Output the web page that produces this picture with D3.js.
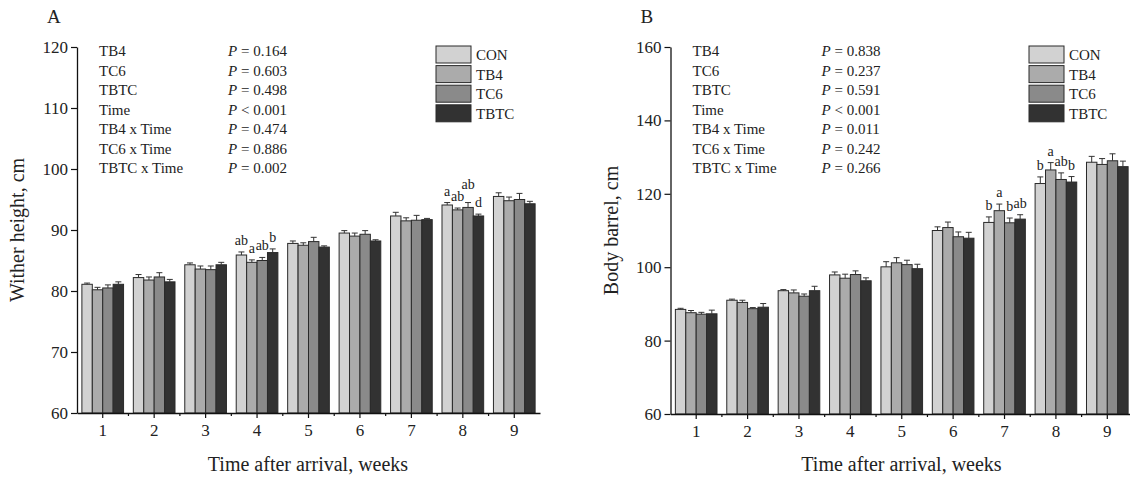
<!DOCTYPE html>
<html>
<head>
<meta charset="utf-8">
<script src="https://cdn.jsdelivr.net/npm/d3@7"></script>
<style>
  body { margin: 0; background: #fff; }
  svg { display: block; font-family: "Liberation Serif", "Times New Roman", serif; }
</style>
</head>
<body>
<svg id="chart" width="1130" height="479"></svg>
<script>
// week labels and treatment groups
const weeks = ["1", "2", "3", "4", "5", "6", "7", "8", "9"];
const groups = ["CON", "TB4", "TC6", "TBTC"];
const groupColors = ["#d2d2d2", "#ababab", "#8a8a8a", "#323232"];

// panel A - wither height (mean, SE), one array per group
const witherCON  = [81.1, 82.2, 84.3, 85.9, 87.8, 89.5, 92.3, 94.1, 95.5];
const witherTB4  = [80.2, 81.8, 83.6, 84.7, 87.5, 89.0, 91.5, 93.3, 94.8];
const witherTC6  = [80.5, 82.3, 83.5, 85.0, 88.1, 89.3, 91.6, 93.7, 95.0];
const witherTBTC = [81.1, 81.5, 84.3, 86.3, 87.2, 88.2, 91.7, 92.3, 94.3];
const witherSeCON  = [0.2, 0.5, 0.3, 0.5, 0.4, 0.4, 0.6, 0.4, 0.6];
const witherSeTB4  = [0.4, 0.5, 0.5, 0.4, 0.4, 0.5, 0.5, 0.3, 0.6];
const witherSeTC6  = [0.5, 0.7, 0.6, 0.5, 0.7, 0.6, 0.8, 0.8, 1.0];
const witherSeTBTC = [0.4, 0.4, 0.4, 0.6, 0.2, 0.2, 0.2, 0.3, 0.4];
// letters per week (null = none), order CON, TB4, TC6, TBTC
const witherLetters = [null, null, null, ["ab", "a", "ab", "b"], null, null, null, ["a", "ab", "ab", "d"], null];

// panel B - body barrel
const barrelCON  = [88.5, 91.0, 93.6, 97.9, 100.1, 110.0, 112.2, 122.8, 128.6];
const barrelTB4  = [87.6, 90.4, 93.0, 97.0, 101.2, 110.8, 115.4, 126.5, 128.0];
const barrelTC6  = [87.2, 88.7, 92.1, 98.0, 100.7, 108.3, 112.1, 123.9, 129.0];
const barrelTBTC = [87.3, 89.1, 93.6, 96.3, 99.6, 107.9, 113.1, 123.2, 127.4];
const barrelSeCON  = [0.3, 0.3, 0.3, 0.8, 1.4, 1.0, 1.5, 1.8, 1.6];
const barrelSeTB4  = [0.6, 0.6, 0.8, 1.1, 1.4, 1.5, 1.8, 2.0, 1.6];
const barrelSeTC6  = [0.5, 0.3, 0.6, 1.0, 1.2, 1.3, 1.3, 1.8, 1.9];
const barrelSeTBTC = [1.0, 1.0, 1.2, 0.8, 1.2, 1.6, 1.2, 1.5, 1.5];
const barrelLetters = [null, null, null, null, null, null, ["b", "a", "b", "ab"], ["b", "a", "ab", "b"], null];

// statistics text
const statTerms = ["TB4", "TC6", "TBTC", "Time", "TB4 x Time", "TC6 x Time", "TBTC x Time"];
const statsA = ["= 0.164", "= 0.603", "= 0.498", "< 0.001", "= 0.474", "= 0.886", "= 0.002"];
const statsB = ["= 0.838", "= 0.237", "= 0.591", "< 0.001", "= 0.011", "= 0.242", "= 0.266"];

const ticksA = [60, 70, 80, 90, 100, 110, 120];
const ticksB = [60, 80, 100, 120, 140, 160];

const svg = d3.select("#chart");

function drawPanel(p) {
  const g = svg.append("g");

  const x = d3.scaleBand().domain(weeks).range([p.left, p.right])
    .paddingInner(0.19).paddingOuter(0.095);
  const xs = d3.scaleBand().domain(groups).range([0, x.bandwidth()]);
  const y = d3.scaleLinear().domain(p.domain).range([p.bottom, p.top]);

  // bars
  groups.forEach((s, si) => {
    const gs = g.append("g");
    gs.selectAll("rect").data(p.means[si]).enter().append("rect")
      .attr("x", (d, i) => x(weeks[i]) + xs(s))
      .attr("y", d => y(d))
      .attr("width", xs.bandwidth())
      .attr("height", d => p.bottom - y(d))
      .attr("fill", groupColors[si])
      .attr("stroke", "#2a2a2a")
      .attr("stroke-width", 1);

    // error bars (upper only)
    const eb = gs.selectAll("g.err").data(p.means[si]).enter().append("g");
    eb.append("line")
      .attr("x1", (d, i) => x(weeks[i]) + xs(s) + xs.bandwidth() / 2)
      .attr("x2", (d, i) => x(weeks[i]) + xs(s) + xs.bandwidth() / 2)
      .attr("y1", d => y(d))
      .attr("y2", (d, i) => y(d + p.se[si][i]))
      .attr("stroke", "#333").attr("stroke-width", 1);
    eb.append("line")
      .attr("x1", (d, i) => x(weeks[i]) + xs(s) + xs.bandwidth() / 2 - 3)
      .attr("x2", (d, i) => x(weeks[i]) + xs(s) + xs.bandwidth() / 2 + 3)
      .attr("y1", (d, i) => y(d + p.se[si][i]))
      .attr("y2", (d, i) => y(d + p.se[si][i]))
      .attr("stroke", "#333").attr("stroke-width", 1);
  });

  // significance letters, bumped up if they collide with the previous one
  p.letters.forEach((lets, wi) => {
    if (!lets) return;
    let prev = null;
    lets.forEach((t, si) => {
      const cx = x(weeks[wi]) + xs(groups[si]) + xs.bandwidth() / 2;
      let by = y(p.means[si][wi] + p.se[si][wi]) - 7;
      const txt = g.append("text").attr("x", cx)
        .attr("text-anchor", "middle").attr("font-size", 14).attr("fill", "#222")
        .text(t);
      const w = txt.node().getComputedTextLength();
      if (prev && cx - w / 2 < prev.x + prev.w / 2 && Math.abs(by - prev.y) < 11) {
        by = prev.y - 12;
      }
      txt.attr("y", by);
      prev = { x: cx, y: by, w: w };
    });
  });

  // x axis
  const xAxis = d3.axisBottom(x).tickSize(5).tickSizeOuter(0).tickPadding(6);
  const gx = g.append("g").attr("transform", `translate(0,${p.bottom})`).call(xAxis);
  gx.select(".domain").attr("stroke", "#111").attr("stroke-width", 1.3);
  gx.selectAll(".tick line").attr("stroke", "#111").attr("stroke-width", 1.2);
  gx.selectAll(".tick text").attr("font-size", 17).attr("fill", "#222")
    .attr("font-family", "Liberation Serif, serif");
  // minor ticks between weeks
  gx.selectAll("line.minor").data(weeks.slice(1)).enter().append("line")
    .attr("x1", d => x(d) - x.step() * 0.095)
    .attr("x2", d => x(d) - x.step() * 0.095)
    .attr("y1", 0).attr("y2", 3)
    .attr("stroke", "#111").attr("stroke-width", 1.2);

  // y axis
  const yAxis = d3.axisLeft(y).tickValues(p.ticks).tickSize(6).tickSizeOuter(0).tickPadding(3);
  const gy = g.append("g").attr("transform", `translate(${p.left},0)`).call(yAxis);
  gy.select(".domain").attr("stroke", "#111").attr("stroke-width", 1.3);
  gy.selectAll(".tick line").attr("stroke", "#111").attr("stroke-width", 1.2);
  gy.selectAll(".tick text").attr("font-size", 17).attr("fill", "#222")
    .attr("font-family", "Liberation Serif, serif");

  // axis titles
  g.append("text")
    .attr("x", p.left + 231).attr("y", 471)
    .attr("text-anchor", "middle").attr("font-size", 20).attr("fill", "#222")
    .text("Time after arrival, weeks");
  g.append("text")
    .attr("transform", `translate(${p.left - 53},${(p.top + p.bottom) / 2}) rotate(-90)`)
    .attr("text-anchor", "middle").attr("font-size", 20).attr("fill", "#222")
    .text(p.yTitle);

  // panel letter
  g.append("text").attr("x", p.left - 30).attr("y", 23)
    .attr("font-size", 19).attr("fill", "#222").text(p.tag);

  // stats block
  const st = g.append("g");
  statTerms.forEach((t, i) => {
    const yy = p.top + 9 + i * 19.5;
    st.append("text").attr("x", p.left + 22).attr("y", yy)
      .attr("font-size", 15).attr("fill", "#222").text(t);
    const pt = st.append("text").attr("x", p.left + 151).attr("y", yy)
      .attr("font-size", 15).attr("fill", "#222");
    pt.append("tspan").attr("font-style", "italic").text("P");
    pt.append("tspan").text(" " + p.stats[i]);
  });

  // legend
  const lg = g.append("g").attr("transform", `translate(${p.legendX},46)`);
  groups.forEach((s, si) => {
    lg.append("rect").attr("x", 0).attr("y", si * 19.6)
      .attr("width", 35).attr("height", 17)
      .attr("fill", groupColors[si]).attr("stroke", "#2a2a2a").attr("stroke-width", 1);
    lg.append("text").attr("x", 40).attr("y", si * 19.6 + 14)
      .attr("font-size", 15).attr("fill", "#222").text(s);
  });
}

drawPanel({
  tag: "A", left: 77, right: 540, top: 47, bottom: 413, domain: [60, 120], ticks: ticksA,
  means: [witherCON, witherTB4, witherTC6, witherTBTC],
  se: [witherSeCON, witherSeTB4, witherSeTC6, witherSeTBTC],
  letters: witherLetters, stats: statsA, yTitle: "Wither height, cm", legendX: 436
});

drawPanel({
  tag: "B", left: 670.5, right: 1133, top: 47, bottom: 414, domain: [60, 160], ticks: ticksB,
  means: [barrelCON, barrelTB4, barrelTC6, barrelTBTC],
  se: [barrelSeCON, barrelSeTB4, barrelSeTC6, barrelSeTBTC],
  letters: barrelLetters, stats: statsB, yTitle: "Body barrel, cm", legendX: 1029
});
</script>
</body>
</html>
